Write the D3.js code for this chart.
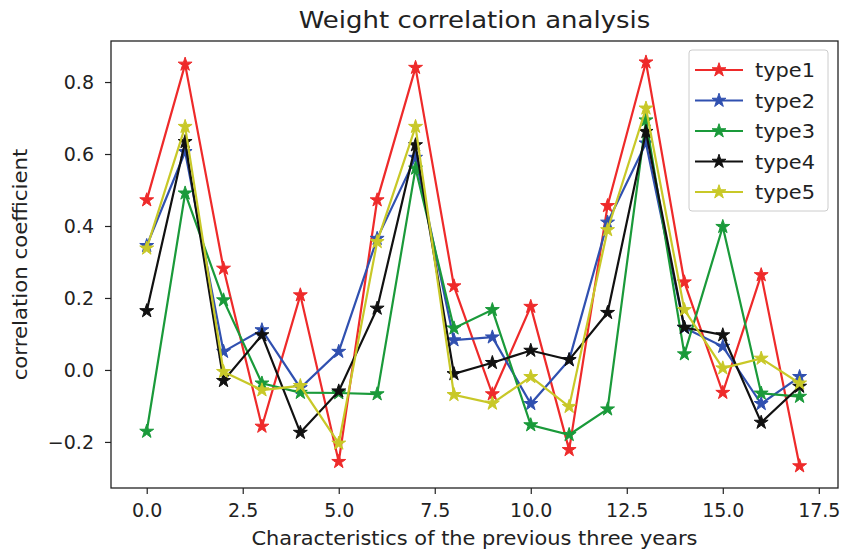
<!DOCTYPE html>
<html>
<head>
<meta charset="utf-8">
<script src="https://cdn.jsdelivr.net/npm/d3@7"></script>
<style>
  body { margin: 0; background: #fff; }
  svg { font-family: "DejaVu Sans", sans-serif; }
</style>
</head>
<body>
<div id="chart"></div>
<script>
// values
const xIdx = d3.range(18);
const type1 = [0.472, 0.849, 0.282, -0.157, 0.208, -0.255, 0.472, 0.840, 0.233, -0.067, 0.176, -0.222, 0.456, 0.855, 0.244, -0.063, 0.264, -0.267];
const type2 = [0.345, 0.606, 0.051, 0.111, -0.050, 0.051, 0.365, 0.590, 0.083, 0.091, -0.094, 0.028, 0.410, 0.630, 0.117, 0.065, -0.094, -0.019];
const type3 = [-0.171, 0.491, 0.194, -0.037, -0.063, -0.064, -0.067, 0.560, 0.116, 0.167, -0.153, -0.180, -0.109, 0.694, 0.044, 0.398, -0.065, -0.074];
const type4 = [0.164, 0.634, -0.030, 0.097, -0.174, -0.059, 0.171, 0.625, -0.011, 0.020, 0.054, 0.028, 0.159, 0.662, 0.118, 0.097, -0.146, -0.046];
const type5 = [0.338, 0.676, -0.005, -0.056, -0.044, -0.204, 0.356, 0.676, -0.069, -0.093, -0.019, -0.102, 0.389, 0.727, 0.167, 0.005, 0.032, -0.037];
const seriesNames = ["type1", "type2", "type3", "type4", "type5"];
const seriesColors = ["#ee2a2a", "#3050b0", "#1a9a3a", "#111111", "#c8c828"];
const xTicks = [0, 2.5, 5, 7.5, 10, 12.5, 15, 17.5];
const yTicks = [-0.2, 0, 0.2, 0.4, 0.6, 0.8];

const allSeries = [type1, type2, type3, type4, type5];

const W = 849, H = 555;
const margin = { top: 41, right: 11, bottom: 67, left: 111 };
const width = W - margin.left - margin.right;
const height = H - margin.top - margin.bottom;

const svg = d3.select("#chart").append("svg")
    .attr("width", W).attr("height", H);

const g = svg.append("g")
    .attr("transform", "translate(" + margin.left + "," + margin.top + ")");

const x = d3.scaleLinear().domain([-0.93, 18.0]).range([0, width]);
const y = d3.scaleLinear().domain([-0.328, 0.914]).range([height, 0]);

function styleAxis(s) {
    s.select(".domain").remove();
    s.attr("font-family", "DejaVu Sans, sans-serif").attr("font-size", 19);
    s.selectAll(".tick line").attr("stroke", "#222").attr("stroke-width", 1.2);
    s.selectAll(".tick text").attr("fill", "#222");
}

// axes
g.append("g")
    .attr("transform", "translate(0," + height + ")")
    .call(d3.axisBottom(x).tickValues(xTicks).tickFormat(d3.format(".1f")).tickSize(6).tickPadding(10))
    .call(styleAxis);

g.append("g")
    .call(d3.axisLeft(y).tickValues(yTicks)
        .tickFormat(d => d < 0 ? "\u2212" + d3.format(".1f")(-d) : d3.format(".1f")(d))
        .tickSize(6).tickPadding(11))
    .call(styleAxis);

const star = d3.symbol().type(d3.symbolStar).size(60);
const line = d3.line().x((d, i) => x(xIdx[i])).y(d => y(d));

allSeries.forEach(function(vals, k) {
    const grp = g.append("g");
    grp.append("path")
        .attr("d", line(vals))
        .attr("fill", "none")
        .attr("stroke", seriesColors[k])
        .attr("stroke-width", 2.2);
    grp.selectAll("path.pt").data(vals).enter().append("path")
        .attr("class", "pt")
        .attr("d", star)
        .attr("transform", (d, i) => "translate(" + x(xIdx[i]) + "," + y(d) + ")")
        .attr("fill", seriesColors[k])
        .attr("stroke", seriesColors[k])
        .attr("stroke-width", 1);
});

// frame
g.append("rect")
    .attr("width", width).attr("height", height)
    .attr("fill", "none").attr("stroke", "#222").attr("stroke-width", 1.3);

// title + labels (text in the picture is a little wider than tall)
svg.append("text")
    .attr("transform", "translate(" + (margin.left + width / 2) + ",28) scale(1.13,1)")
    .attr("text-anchor", "middle")
    .attr("font-size", 23).attr("fill", "#222")
    .text("Weight correlation analysis");

svg.append("text")
    .attr("transform", "translate(" + (margin.left + width / 2) + ",545) scale(1.1,1)")
    .attr("text-anchor", "middle")
    .attr("font-size", 19).attr("fill", "#222")
    .text("Characteristics of the previous three years");

svg.append("text")
    .attr("transform", "translate(27," + (margin.top + height / 2) + ") rotate(-90) scale(1.12,1)")
    .attr("text-anchor", "middle")
    .attr("font-size", 19).attr("fill", "#222")
    .text("correlation coefficient");

// legend
const leg = svg.append("g").attr("transform", "translate(689,50)");
leg.append("rect")
    .attr("width", 139).attr("height", 161).attr("rx", 3)
    .attr("fill", "#fff").attr("fill-opacity", 0.85)
    .attr("stroke", "#ccc");
seriesNames.forEach(function(name, k) {
    const yy = 20 + k * 30.5;
    leg.append("line")
        .attr("x1", 6).attr("x2", 54).attr("y1", yy).attr("y2", yy)
        .attr("stroke", seriesColors[k]).attr("stroke-width", 2.2);
    leg.append("path")
        .attr("d", star)
        .attr("transform", "translate(30," + yy + ")")
        .attr("fill", seriesColors[k]).attr("stroke", seriesColors[k]).attr("stroke-width", 1);
    leg.append("text")
        .attr("transform", "translate(66," + (yy + 7) + ") scale(1.1,1)")
        .attr("font-size", 19).attr("fill", "#222")
        .text(name);
});
</script>
</body>
</html>
